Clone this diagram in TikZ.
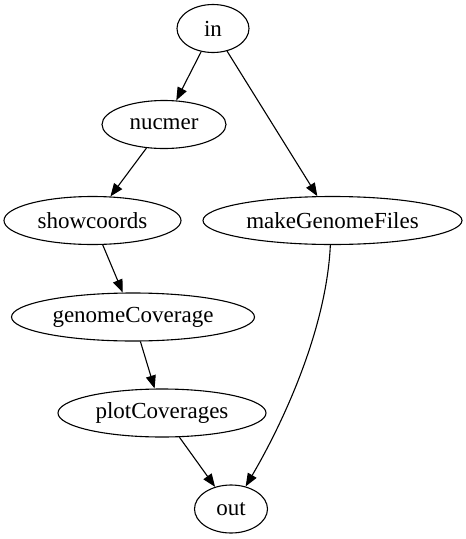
\documentclass[tikz,border=0pt]{standalone}
\usepackage{fontspec}
\setmainfont{Liberation Serif}
\usepackage{tikz}
\usetikzlibrary{shapes}
\usetikzlibrary{arrows.meta}
\tikzstyle{line} = [draw, line width=1.1pt, -{Triangle[length=13pt, width=10pt]}]

\begin{document}
\begin{tikzpicture}[x=1pt, y=-1pt,
				task/.style={draw, ellipse, inner sep=0pt, line width=1.1pt, minimum height=48pt},
				every text node part/.style={font=\fontsize{23}{26}\selectfont}]
				\useasboundingbox (0,0) rectangle (466,539);
				\node[task, minimum width=72pt](in) at (213, 28.5) {in};
				\node[task, minimum width=124pt](nucmer) at (164, 124.5) {nucmer};
				\node[task, minimum width=177pt](showcoords) at (92.5, 220.5) {showcoords};
				\node[task, minimum width=259pt](mkgenome) at (332.5, 220.5) {makeGenomeFiles};
				\node[task, minimum width=243pt](gencov) at (133, 317) {genomeCoverage};
				\node[task, minimum width=208pt](plotcov) at (162, 413) {plotCoverages};
				\node[task, minimum width=73pt](out) at (231, 509) {out};
				
				\draw [line] (in) -- (nucmer);
				\draw [line] (in) -- (mkgenome);
				\draw [line] (nucmer) -- (showcoords);
				\draw [line] (showcoords) -- (gencov);
				\draw [line] (gencov) -- (plotcov);
				\draw [line] (plotcov) -- (out);
				\draw [line] (mkgenome.-95) .. controls +(-4, 85) and +(37, -63) .. (out.57);
			\end{tikzpicture}
\end{document}
